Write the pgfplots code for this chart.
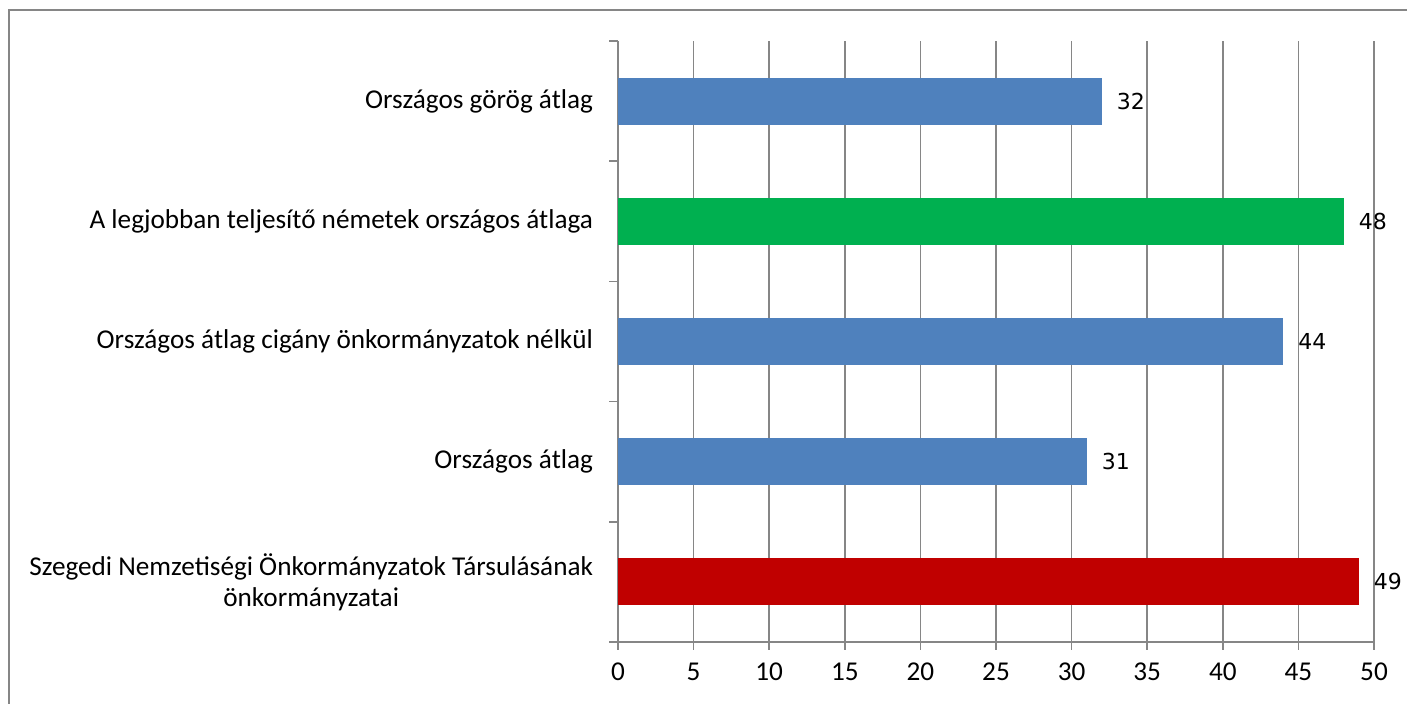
\documentclass[border=0pt]{standalone}
\usepackage{pgfplots}
\pgfplotsset{compat=1.18}
\usepackage{fontspec}
\setmainfont{Carlito}
\newfontfamily\dejavu{DejaVu Sans}
\definecolor{barblue}{HTML}{4F81BD}
\definecolor{bargreen}{HTML}{00B050}
\definecolor{barred}{HTML}{C00000}
\definecolor{gridgray}{HTML}{868686}
\begin{document}
\begin{tikzpicture}
\useasboundingbox (0,0) rectangle (703.5pt,352pt);
\draw[gridgray, line width=1pt] (4.5pt,-2pt) -- (4.5pt,347pt) -- (706pt,347pt);
\begin{axis}[
  at={(309pt,31pt)}, anchor=south west,
  scale only axis, width=378pt, height=300.5pt,
  xmin=0, xmax=50, ymin=-0.5, ymax=4.5,
  xtick={0,5,...,50},
  ytick={0,1,2,3,4},
  yticklabels={{Szegedi Nemzetiségi Önkormányzatok Társulásának\\önkormányzatai},
    {Országos átlag},
    {Országos átlag cigány önkormányzatok nélkül},
    {A legjobban teljesítő németek országos átlaga},
    {Országos görög átlag}},
  minor ytick={-0.5,0.5,1.5,2.5,3.5,4.5},
  every major y tick/.append style={draw=none},
  every minor y tick/.append style={gridgray, line width=0.75pt},
  every major x tick/.append style={gridgray, line width=0.75pt},
  tick align=outside,
  major tick length=4pt,
  minor tick length=4.5pt,
  xtick pos=bottom, ytick pos=left,
  xmajorgrids,
  major x grid style={gridgray, line width=0.75pt},
  axis x line*=bottom, axis y line*=left,
  axis line style={gridgray, line width=0.75pt, -},
  /pgf/number format/assume math mode=true,
  xticklabel style={font=\fontsize{13.6}{15.5}\selectfont, text=black, yshift=-3pt},
  yticklabel style={font=\fontsize{13.6}{15.5}\selectfont, align=center, xshift=-5pt, text=black},
  xbar, bar width=23.5pt, bar shift=0pt,
  nodes near coords, point meta=x,
  nodes near coords style={font=\dejavu\fontsize{11}{13}\selectfont, anchor=west, xshift=4pt, text=black},
]
\addplot[fill=barred, draw=none] coordinates {(49,0)};
\addplot[fill=barblue, draw=none] coordinates {(31,1)};
\addplot[fill=barblue, draw=none] coordinates {(44,2)};
\addplot[fill=bargreen, draw=none] coordinates {(48,3)};
\addplot[fill=barblue, draw=none] coordinates {(32,4)};
\end{axis}
\end{tikzpicture}
\end{document}
